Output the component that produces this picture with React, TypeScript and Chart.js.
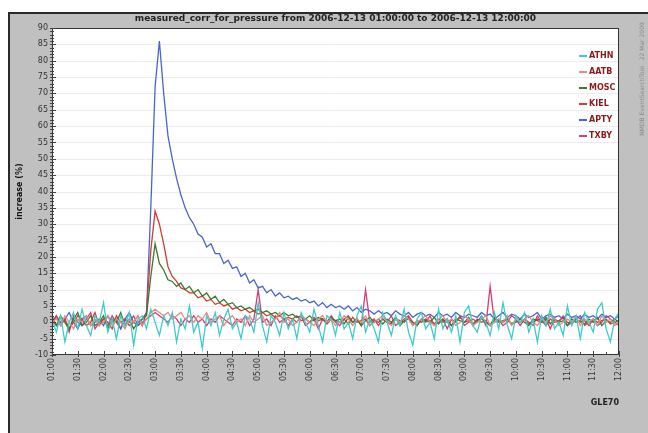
import React, { useEffect, useRef } from "react";
import { Chart, registerables } from "chart.js";

Chart.register(...registerables);

const TITLE = "measured_corr_for_pressure from 2006-12-13 01:00:00 to 2006-12-13 12:00:00";
const Y_TITLE = "increase (%)";
const EVENT_LABEL = "GLE70";
const SIDE_NOTE = "NMDB EventSearchTool   22 Mar 2009";

const STATIONS = ["ATHN", "AATB", "MOSC", "KIEL", "APTY", "TXBY"];
const COLORS = ["#3ccccc", "#e88a84", "#3b7a2c", "#d23c34", "#4a66cc", "#d0407a"];

const STEP_MINUTES = 5;
const X_MAX_MINUTES = 660;

const TICK_LABELS = [
  "01:00", "01:30", "02:00", "02:30", "03:00", "03:30", "04:00", "04:30",
  "05:00", "05:30", "06:00", "06:30", "07:00", "07:30", "08:00", "08:30",
  "09:00", "09:30", "10:00", "10:30", "11:00", "11:30", "12:00",
];

const Y_MIN = -10;
const Y_MAX = 90;

// 5-minute samples from 01:00 to 12:00 (133 values each)
const ATHN = [
  1, -3, 2, -6, 0, 3, -2, 4, -1, -4, 2,
  0, 6, -3, 1, -5, 2, -1, 3, -7, 1, 2,
  -2, 4, 0, -4, 2, -1, 3, -6, 1, -2, 5,
  -3, 0, -8, 2, -1, 3, -4, 1, 4, -2, 0,
  -5, 2, 1, -3, 6, -1, -6, 2, 0, -4, 3,
  -2, 1, -5, 3, 0, -3, 4, -1, -6, 2, 1,
  -4, 3, -2, 0, -5, 2, 5, -3, 1, -2, -6,
  3, 0, -4, 2, -1, 4, -3, -7, 1, 3, -2,
  0, -5, 4, -2, 1, -3, 2, -6, 3, 5, -1,
  -3, 2, 0, -4, 3, -2, 6, -1, -5, 2, 0,
  3, -3, 1, -6, 2, -1, 4, -2, 0, -4, 5,
  -1, 2, -5, 3, 0, -3, 4, 6, -2, -6, 1,
  3,
];

const AATB = [
  0, 1, -1, 2, 0, -2, 1, 0, 2, -1, 1,
  -1, 0, 2, -1, 1, 0, -2, 1, 0, 2, -1,
  1, 3, 4, 3, 2, 3, 1, 2, 3, 1, 2,
  0, 2, 1, 3, 0, 1, 2, -1, 1, 2, 0,
  1, -1, 2, 0, 1, 2, -1, 0, 1, 3, 0,
  1, -1, 0, 2, 1, 0, -1, 1, 2, 0, 1,
  -1, 0, 2, 1, -1, 1, 0, 2, -1, 0, 1,
  2, 0, -1, 1, 0, 2, 1, -1, 0, 1, 2,
  0, -1, 1, 2, 0, 1, -1, 0, 2, 1, -1,
  0, 1, 2, -1, 0, 1, 0, 2, -1, 1, 0,
  1, 2, 0, -1, 1, 0, 2, 1, -1, 0, 1,
  0, 2, -1, 1, 0, 1, -1, 2, 0, 1, -1,
  0,
];

const MOSC = [
  1, -1, 2, 0, -2, 1, 3, -1, 0, 2, -1,
  0, 2, -2, 1, 0, 3, -1, 1, -2, 0, 1,
  2, 14, 24, 18, 16, 13, 12.5, 11, 12, 10, 11,
  9, 10, 8, 9, 7, 8, 6, 7, 5.5, 6, 4.5,
  5, 4, 4.5, 3.5, 4, 3, 3.5, 2.5, 3, 2, 3,
  2, 2.5, 1.5, 2, 1, 2, 0.5, 1.5, 1, 0, 1.5,
  0.5, 1, -0.5, 1.5, 0, 1, -1, 0.5, 1.5, 0, 1,
  -0.5, 1, 0, 1.5, -1, 0.5, 1, 0, -1, 1, 0.5,
  0, 1.5, -0.5, 1, 0, -1, 1, 0.5, 0, 1.5, -1,
  0.5, 1, 0, -1, 1.5, 0, 0.5, 1, -0.5, 0, 1,
  0, -1, 1, 0.5, 0, 1.5, -0.5, 1, 0, 0.5, -1,
  1, 0, 0.5, -0.5, 1, 0, 1.5, -1, 0.5, 0, 1,
  0,
];

const KIEL = [
  -1, 2, 0, 1, -2, 0, 2, 1, -1, 0, 3,
  -1, 1, 0, -2, 2, 0, 1, -1, 0, 2, -1,
  3, 22, 34, 30, 24, 17, 14, 12.5, 10.5, 10, 9,
  9, 7.5, 8, 6.5, 7, 5.5, 6, 5, 5.5, 4, 4.5,
  3.5, 4, 3, 3.5, 2.5, 3, 2, 2.5, 1.5, 2, 1,
  1.5, 1, 2, 0.5, 1, 0, 1.5, 0.5, 1, -0.5, 1,
  0.5, 0, 1, -0.5, 1.5, 0, 0.5, 1, -1, 0.5, 0,
  1, 0, -0.5, 1, 0.5, 0, 1.5, -1, 0.5, 0, 1,
  0.5, -0.5, 1, 0, 1, -1, 0.5, 1.5, 0, 0.5, -0.5,
  1, 0, 0.5, -1, 1, 0.5, 0, 1, -0.5, 0.5, 0,
  1, -0.5, 0, 1, 0.5, -1, 1, 0, 0.5, 1.5, 0,
  -0.5, 1, 0, 0.5, -1, 1, 0, 0.5, 1, -0.5, 0,
  0.5,
];

const APTY = [
  0, 2, -1, 1, 3, 0, -2, 1, 2, -1, 0,
  1, -1, 2, 0, 1, -2, 1, 3, 0, -1, 1,
  3, 35, 72, 86, 70, 57, 50, 44, 39, 35, 32,
  30, 27, 26, 23, 24, 21, 21, 18, 19, 16.5, 17,
  14, 15, 12, 13, 10.5, 11, 9, 10, 8, 9, 7.5,
  8, 7, 7.5, 6.5, 7, 6, 6.5, 5, 6, 4.5, 5.5,
  4.5, 5, 4, 5, 3.5, 4.5, 3, 4, 3.5, 2.5, 3.5,
  2.5, 3, 2, 3.5, 2.5, 2, 3, 1.5, 2.5, 3, 2,
  2.5, 1.5, 3, 2, 2.5, 1.5, 3, 2, 1.5, 2.5, 2,
  1.5, 3, 2, 2.5, 1, 2, 3, 1.5, 2.5, 2, 1,
  2.5, 1.5, 2, 3, 1, 2, 2.5, 1.5, 2, 1, 2.5,
  1.5, 2, 1, 2.5, 1.5, 2, 1, 2.5, 1.5, 2, 1,
  2,
];

const TXBY = [
  2, -1, 0, 1, -3, 2, 0, -1, 1, 3, -2,
  0, 1, -1, 2, 0, -2, 1, 0, 2, -1, 0,
  1, 2, 3, 2, 1, 0, 2, 1, -1, 1, 0,
  2, 0, 1, -1, 1, 0, 2, 1, 0, -1, 1,
  0, 2, -1, 1, 10, 0, 1, -1, 2, 0, 1,
  -1, 1, 0, 2, -1, 0, 1, -2, 1, 0, 2,
  0, -1, 1, 2, 0, 1, -1, 10, 0, 1, -1,
  1, 0, 2, -1, 0, 1, 2, 0, -1, 1, 0,
  2, -1, 0, 1, -2, 1, 0, 2, -1, 0, 1,
  0, 2, -1, 11, 0, 1, -1, 0, 2, 1, -1,
  1, 0, -1, 2, 0, 1, -2, 1, 0, 2, -1,
  0, 1, 2, -1, 0, 1, -1, 0, 2, 1, 0,
  -1,
];

const SERIES = [ATHN, AATB, MOSC, KIEL, APTY, TXBY];

const FONT = "DejaVu Sans";

const framePlugin = {
  id: "frameExtras",
  beforeDatasetsDraw(chart: any) {
    const { ctx, chartArea } = chart;
    ctx.save();
    ctx.fillStyle = "#ffffff";
    ctx.fillRect(chartArea.left, chartArea.top, chartArea.right - chartArea.left, chartArea.bottom - chartArea.top);
    const y = chart.scales.y;
    ctx.strokeStyle = "#ececec";
    ctx.lineWidth = 1;
    for (let v = Y_MIN + 5; v < Y_MAX; v += 5) {
      const py = Math.round(y.getPixelForValue(v)) + 0.5;
      ctx.beginPath();
      ctx.moveTo(chartArea.left, py);
      ctx.lineTo(chartArea.right, py);
      ctx.stroke();
    }
    ctx.restore();
  },
  afterDraw(chart: any) {
    const { ctx, chartArea } = chart;
    const x = chart.scales.x;
    const y = chart.scales.y;
    ctx.save();
    ctx.strokeStyle = "#333333";
    ctx.lineWidth = 1;
    ctx.strokeRect(chartArea.left + 0.5, chartArea.top + 0.5, chartArea.right - chartArea.left - 1, chartArea.bottom - chartArea.top - 1);
    ctx.strokeStyle = "#444444";
    for (let v = Y_MIN; v <= Y_MAX; v += 1) {
      const py = Math.round(y.getPixelForValue(v)) + 0.5;
      const len = v % 5 === 0 ? 4 : 2;
      ctx.beginPath();
      ctx.moveTo(chartArea.left - 2, py);
      ctx.lineTo(chartArea.left + len, py);
      ctx.stroke();
    }
    for (let m = 0; m <= X_MAX_MINUTES; m += 15) {
      const px = Math.round(x.getPixelForValue(m)) + 0.5;
      const len = m % 30 === 0 ? 4 : 3;
      ctx.beginPath();
      ctx.moveTo(px, chartArea.bottom - len);
      ctx.lineTo(px, chartArea.bottom + (m % 30 === 0 ? 2 : 0));
      ctx.stroke();
    }
    ctx.fillStyle = "#222222";
    ctx.font = `bold 9px "${FONT}"`;
    ctx.textAlign = "center";
    ctx.textBaseline = "middle";
    ctx.fillText(TITLE, (chartArea.left + chartArea.right) / 2, 19);
    const lx = chartArea.right - 40;
    ctx.font = `bold 8px "${FONT}"`;
    ctx.textAlign = "left";
    chart.data.datasets.forEach((ds: any, i: number) => {
      const ly = 56 + i * 16;
      ctx.strokeStyle = ds.borderColor;
      ctx.lineWidth = 2;
      ctx.beginPath();
      ctx.moveTo(lx, ly);
      ctx.lineTo(lx + 8, ly);
      ctx.stroke();
      ctx.fillStyle = "#8b1a1a";
      ctx.fillText(ds.label, lx + 10, ly);
    });
    ctx.fillStyle = "#222222";
    ctx.font = `bold 8px "${FONT}"`;
    ctx.textAlign = "right";
    ctx.fillText(EVENT_LABEL, chartArea.right, 403);
    ctx.save();
    ctx.translate(642, 79);
    ctx.rotate(-Math.PI / 2);
    ctx.fillStyle = "#8c8c8c";
    ctx.font = `6px "${FONT}"`;
    ctx.textAlign = "center";
    ctx.fillText(SIDE_NOTE, 0, 0);
    ctx.restore();
    ctx.restore();
  },
};

export default function App() {
  const canvasRef = useRef<HTMLCanvasElement | null>(null);

  useEffect(() => {
    const canvas = canvasRef.current;
    if (!canvas) return;
    const datasets = STATIONS.map((name, i) => ({
      label: name,
      data: SERIES[i].map((v, k) => ({ x: k * STEP_MINUTES, y: v })),
      borderColor: COLORS[i],
      backgroundColor: COLORS[i],
      borderWidth: 1.3,
      pointRadius: 0,
      tension: 0,
      fill: false,
    }));
    const chart = new Chart(canvas, {
      type: "line",
      data: { datasets },
      plugins: [framePlugin],
      options: {
        animation: false,
        responsive: false,
        maintainAspectRatio: false,
        layout: { padding: { top: 28, right: 29, bottom: 38, left: 8 } },
        plugins: {
          legend: { display: false },
          title: { display: false },
          tooltip: { enabled: false },
        },
        scales: {
          x: {
            type: "linear",
            min: 0,
            max: X_MAX_MINUTES,
            afterFit: (s: any) => { s.height = 40; },
            grid: { display: true, drawOnChartArea: false, drawTicks: false },
            border: { display: false },
            ticks: {
              stepSize: 15,
              autoSkip: false,
              minRotation: 90,
              maxRotation: 90,
              padding: 3,
              color: "#333333",
              font: { family: FONT, size: 8 },
              callback: (v: any) => (Number(v) % 30 === 0 ? TICK_LABELS[Number(v) / 30] : ""),
            },
          },
          y: {
            min: Y_MIN,
            max: Y_MAX,
            afterFit: (s: any) => { s.width = 44; },
            grid: { display: false, drawTicks: false },
            border: { display: false },
            ticks: {
              stepSize: 5,
              padding: 4,
              color: "#333333",
              font: { family: FONT, size: 8 },
            },
            title: {
              display: true,
              text: Y_TITLE,
              color: "#111111",
              font: { family: FONT, size: 8, weight: "bold" },
              padding: { top: 7, bottom: 0 },
            },
          },
        },
      },
    } as any);
    return () => chart.destroy();
  }, []);

  return (
    <div style={{ position: "fixed", left: 0, top: 0, width: 648, height: 433, background: "#ffffff" }}>
      <div
        style={{
          position: "absolute",
          left: 8,
          top: 12,
          right: 0,
          bottom: 0,
          background: "#c0c0c0",
          borderTop: "2px solid #2a2a2a",
          borderLeft: "2px solid #2a2a2a",
        }}
      />
      <canvas ref={canvasRef} width={648} height={433} style={{ position: "absolute", left: 0, top: 0, width: 648, height: 433 }} />
    </div>
  );
}
